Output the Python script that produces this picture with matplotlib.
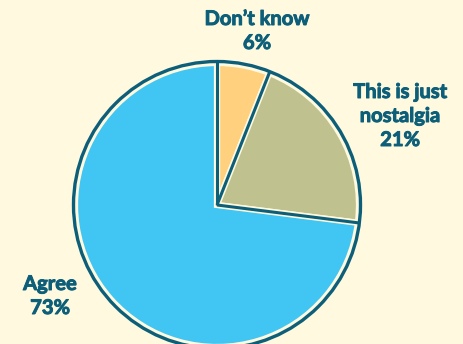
import matplotlib.pyplot as plt
import matplotlib.patheffects as pe
import numpy as np

labels = ['Don\u2019t know', 'This is just\nnostalgia', 'Agree']
values = [6, 21, 73]
colors = ['#FFD07E', '#BFC28E', '#41C5F2']

bg = '#FEF9DF'
teal = '#0D5F79'

plt.rcParams['font.family'] = ['Lato', 'DejaVu Sans']

fig = plt.figure(figsize=(4.64, 3.44), dpi=100, facecolor=bg)
ax = fig.add_axes([0, 0, 1, 1])
ax.set_facecolor(bg)

cx, cy, r = 217, 139, 142
wedges, _ = ax.pie(values, colors=colors, startangle=90, counterclock=False,
                   center=(cx, cy), radius=r,
                   wedgeprops=dict(edgecolor=bg, linewidth=4.5))

# dark outline and separators
ax.add_patch(plt.Circle((cx, cy), r + 1.5, fill=False, edgecolor=teal, lw=2.4))
start = 90
for v in values:
    a = np.deg2rad(start)
    ax.plot([cx, cx + (r + 1) * np.cos(a)], [cy, cy + (r + 1) * np.sin(a)],
            color=teal, lw=2.2, solid_capstyle='butt')
    start -= v * 3.6

ax.set_xlim(0, 464)
ax.set_ylim(0, 344)
ax.set_aspect('equal')
ax.axis('off')

txt = dict(color=teal, fontsize=14.5, fontweight='bold', ha='center', va='center',
           linespacing=1.25,
           path_effects=[pe.withStroke(linewidth=0.7, foreground=teal)])
ax.text(257, 344 - 31, labels[0] + '\n%d%%' % values[0], **txt)
ax.text(400, 344 - 116, labels[1] + '\n%d%%' % values[1], **txt)
ax.text(50, 344 - 296, labels[2] + '\n%d%%' % values[2], **txt)

fig.savefig('out.png', dpi=100, facecolor=bg)
